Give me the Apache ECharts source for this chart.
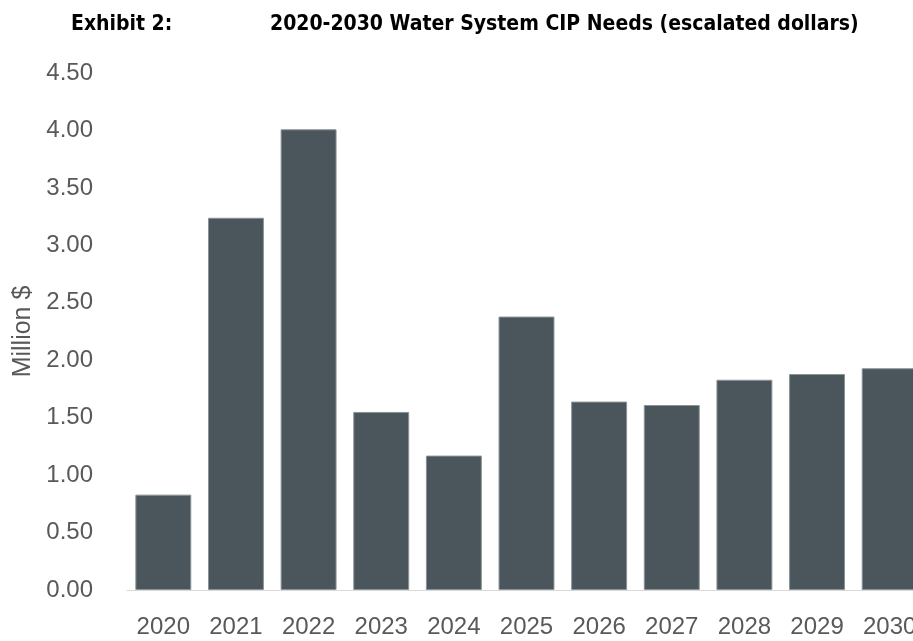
<!DOCTYPE html>
<html>
<head>
<meta charset="utf-8">
<script src="https://cdn.jsdelivr.net/npm/echarts@6/dist/echarts.min.js"></script>
<style>
  html, body { margin: 0; padding: 0; background: #fff; }
  #chart { width: 913px; height: 641px; }
</style>
</head>
<body>
<div id="chart"></div>
<script>
// 数据
var years = ['2020', '2021', '2022', '2023', '2024', '2025', '2026', '2027', '2028', '2029', '2030'];
var cipNeeds = [0.83, 3.24, 4.01, 1.55, 1.17, 2.38, 1.64, 1.61, 1.83, 1.88, 1.93];
var yTicks = [0, 0.5, 1, 1.5, 2, 2.5, 3, 3.5, 4, 4.5];

var chart = echarts.init(document.getElementById('chart'));
var titleFont = {
    fontFamily: 'DejaVu Sans Condensed, Liberation Sans',
    fontWeight: 'bold',
    fontSize: 21,
    color: '#000'
};
var option = {
    backgroundColor: '#fff',
    title: [
        {
            text: 'Exhibit 2:',
            left: 66,
            top: 9,
            textStyle: titleFont
        },
        {
            text: '2020-2030 Water System CIP Needs (escalated dollars)',
            left: 265,
            top: 9,
            textStyle: titleFont
        }
    ],
    // 最后一根柱子被右边裁掉，所以网格超出画布
    grid: {
        left: 127,
        right: -13,
        top: 73,
        bottom: 51,
        outerBoundsMode: 'none'
    },
    xAxis: {
        type: 'category',
        data: years,
        axisTick: {show: false},
        axisLine: {
            lineStyle: {color: '#d9d9d9', width: 1}
        },
        axisLabel: {
            color: '#595959',
            fontFamily: 'Liberation Sans',
            fontSize: 24,
            margin: 25,
            interval: 0
        }
    },
    yAxis: {
        type: 'value',
        min: yTicks[0],
        max: yTicks[yTicks.length - 1],
        interval: 0.5,
        name: 'Million $',
        nameLocation: 'middle',
        nameGap: 80,
        nameTextStyle: {
            color: '#595959',
            fontFamily: 'Liberation Sans',
            fontSize: 25
        },
        splitLine: {show: false},
        axisLine: {show: false},
        axisTick: {show: false},
        axisLabel: {
            color: '#595959',
            fontFamily: 'Liberation Sans',
            fontSize: 24,
            margin: 34,
            formatter: function (v) { return v.toFixed(2); }
        }
    },
    series: [
        {
            type: 'bar',
            data: cipNeeds,
            barCategoryGap: '23%',
            itemStyle: {
                color: '#4b565c',
                borderColor: '#8a9396',
                borderWidth: 1
            }
        }
    ]
};
chart.setOption(option);
</script>
</body>
</html>
